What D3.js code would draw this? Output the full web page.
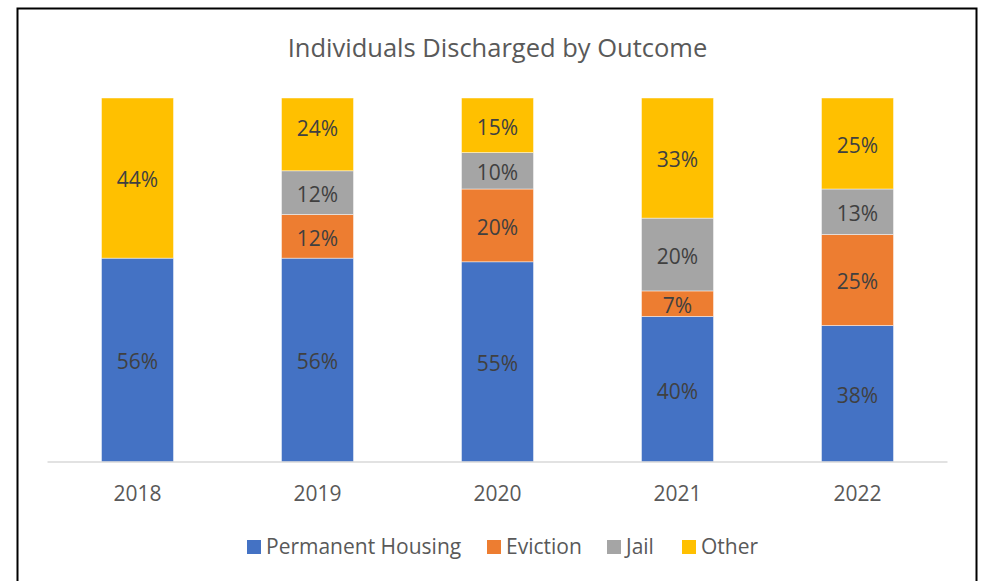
<!DOCTYPE html>
<html><head><meta charset="utf-8">
<script src="https://cdn.jsdelivr.net/npm/d3@7"></script>
<style>body{margin:0;background:#fff;font-family:"Open Sans",sans-serif;}</style>
</head><body>
<svg id="c" width="983" height="581"></svg>
<script>
const years = ["2018","2019","2020","2021","2022"];
const seriesNames = ["Permanent Housing","Eviction","Jail","Other"];
const permanentHousing = [56, 56, 55, 40, 37.5];
const eviction = [0, 12, 20, 7, 25];
const jail = [0, 12, 10, 20, 12.5];
const other = [44, 24, 15, 33, 25];
const colors = ["#4472C4","#ED7D31","#A5A5A5","#FFC000"];
const yTicks = [0, 100];

const svg = d3.select("#c");
svg.append("rect").attr("x",17.5).attr("y",8.5).attr("width",959).attr("height",600)
  .attr("fill","#fff").attr("stroke","#000").attr("stroke-width",2);

const x = d3.scaleBand().domain(years).range([47.5, 947.5]).paddingInner(0.6).paddingOuter(0.3);
const y = d3.scaleLinear().domain([yTicks[0], yTicks[1]]).range([462, 98]);

const rows = years.map((yr,i)=>({year:yr, "Permanent Housing":permanentHousing[i], "Eviction":eviction[i], "Jail":jail[i], "Other":other[i]}));
const stacked = d3.stack().keys(seriesNames)(rows);

svg.append("text").attr("x",497.5).attr("y",48).attr("dy","0.35em").attr("text-anchor","middle")
  .attr("font-size",25.5).attr("fill","#595959").text("Individuals Discharged by Outcome");

const g = svg.append("g");
stacked.forEach((s,si)=>{
  g.selectAll(null).data(s).enter().append("rect")
    .attr("x",d=>x(d.data.year))
    .attr("width",x.bandwidth())
    .attr("y",d=>y(Math.min(d[1],100)))
    .attr("height",d=>Math.max(0,y(Math.min(d[0],100))-y(Math.min(d[1],100))))
    .attr("fill",colors[si])
    .attr("stroke","#fff").attr("stroke-width",0.75).attr("stroke-opacity",0.6);
});
stacked.forEach((s,si)=>{
  g.selectAll(null).data(s.filter(d=>d[1]-d[0]>0)).enter().append("text")
    .attr("x",d=>x(d.data.year)+x.bandwidth()/2)
    .attr("y",d=>y((d[0]+d[1])/2)+2)
    .attr("dy","0.35em")
    .attr("text-anchor","middle").attr("font-size",21).attr("fill","#404040")
    .text(d=>Math.round(d[1]-d[0]+0.001)+"%");
});

const xAxis = svg.append("g").attr("transform","translate(0,462)")
  .call(d3.axisBottom(x).tickSize(0).tickPadding(24).tickSizeOuter(0));
xAxis.select(".domain").attr("stroke","#D9D9D9").attr("stroke-width",1.5)
  .attr("d","M47.5,0H947.5");
xAxis.selectAll("text").attr("font-size",21).attr("fill","#595959").attr("font-family","Open Sans");

const legendX = [247, 487, 607, 682];
const lg = svg.append("g");
seriesNames.forEach((n,i)=>{
  lg.append("rect").attr("x",legendX[i]).attr("y",540).attr("width",14).attr("height",14).attr("fill",colors[i]);
  lg.append("text").attr("x",legendX[i]+19).attr("y",547).attr("dy","0.35em")
    .attr("font-size",21).attr("fill","#595959").text(n);
});
</script>
</body></html>
